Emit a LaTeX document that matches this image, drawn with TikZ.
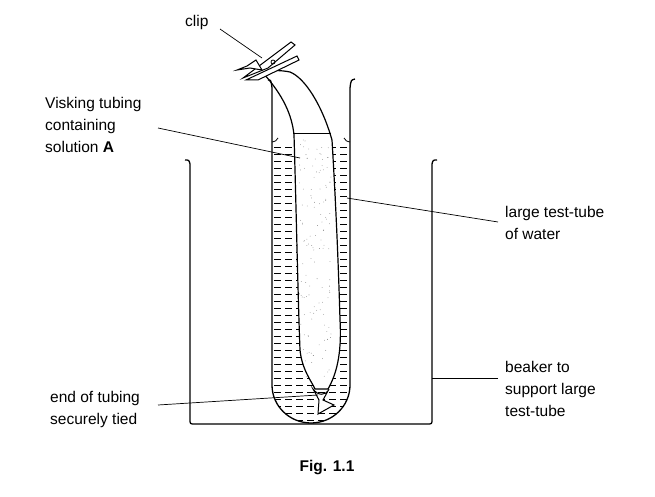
\documentclass[tikz,border=0pt]{standalone}
\usepackage{fontspec}
\setmainfont{Liberation Sans}
\begin{document}
\begin{tikzpicture}[x=1pt,y=-1pt,
  wall/.style={line width=1.3pt},
  leader/.style={line width=0.7pt},
  lbl/.style={align=left,anchor=west,font=\fontsize{15.5}{22}\selectfont,inner sep=0pt}]
\useasboundingbox (0,0) rectangle (655,497);
% water in tube
\begin{scope}
  \clip (272,142) -- (272,385) arc[start angle=180,end angle=360,x radius=39,y radius=-38] -- (350,142) -- cycle;
  \foreach \y in {147,154,...,425}
    \draw[dash pattern=on 7pt off 4pt,line width=0.6pt] (274,\y) -- (350,\y);
\end{scope}
% visking tubing
\path[fill=white,draw,line width=1.2pt] (263,73) .. controls (283,95) and (292,115) .. (294,135)
  .. controls (296,200) and (298,300) .. (300,350) .. controls (302,370) and (312,382) .. (315,389)
  -- (328,389) .. controls (336,375) and (342,355) .. (340,320)
  .. controls (338,250) and (335,190) .. (332,140) .. controls (322,105) and (305,78) .. (290,72)
  .. controls (280,70) and (270,70) .. (263,73) -- cycle;
\draw[line width=0.9pt] (294,133) -- (331,133);
\pgfmathsetseed{7}
\foreach \i in {1,...,130}{
  \pgfmathsetmacro{\yy}{140+rnd*240}
  \pgfmathsetmacro{\xx}{299+rnd*32}
  \fill[gray] (\xx,\yy) circle (0.4pt);
}
% knot
\draw[line width=1pt,fill=white] (313,389) .. controls (318,396) and (326,396) .. (329,389) -- (323,400) -- (334,405) -- (318,414) -- (319,400) -- cycle;
% test-tube
\draw[wall] (268,80) .. controls (271,80) .. (272,88) -- (272,385)
  arc[start angle=180,end angle=360,x radius=39,y radius=-38] -- (350,88) .. controls (351,80) .. (355,79);
\draw[line width=0.8pt] (272,142) .. controls (276,141) .. (278,138);
\draw[line width=0.8pt] (350,142) .. controls (346,141) .. (344,138);
% beaker
\draw[wall] (185,160) .. controls (189,160) .. (190,164) -- (190,419) .. controls (190,424) .. (195,424)
  -- (427,424) .. controls (432,424) .. (432,419) -- (432,164) .. controls (433,160) .. (437,160);
% clip
\draw[line width=1pt,fill=white] (243,78) -- (291,42) -- (295,45) -- (268,68) -- cycle;
\draw[line width=1pt,fill=white] (246,80) -- (297,56) -- (299,60) -- (258,80) -- cycle;
\draw[line width=1pt,fill=white] (256,60) -- (247,66) -- (237,70) -- (250,68) -- (262,70) -- cycle;
\draw[line width=0.8pt] (273,62) circle (2pt);
% labels
\node[lbl] (clip) at (185,22) {clip};
\coordinate (clipend) at (262,58);
\draw[leader] (220,29) -- (clipend);
\node[lbl] (visk) at (45,125) {Visking tubing\\containing\\solution \textbf{A}};
\coordinate (viskend) at (300,158);
\draw[leader] (158,128) -- (viskend);
\node[lbl] (tube) at (505,223) {large test-tube\\of water};
\coordinate (tubeend) at (347,198);
\draw[leader] (498,222) -- (tubeend);
\node[lbl] (beak) at (505,389) {beaker to\\support large\\test-tube};
\coordinate (beakend) at (432,378);
\draw[leader] (498,378) -- (beakend);
\node[lbl] (tied) at (50,409) {end of tubing\\securely tied};
\coordinate (tiedend) at (318,395);
\draw[leader] (158,405) -- (tiedend);
\node[font=\bfseries\fontsize{15.5}{18}\selectfont] (fig) at (327,468) {Fig. 1.1};
\end{tikzpicture}
\end{document}
